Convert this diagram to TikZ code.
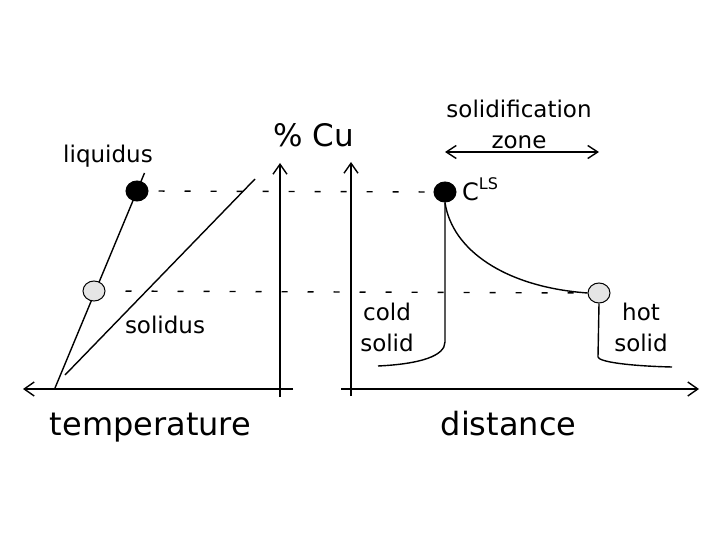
\documentclass[tikz,border=0pt]{standalone}
\usepackage{fontspec}
\setmainfont{DejaVu Sans}
\usetikzlibrary{arrows.meta,shapes.geometric}
\begin{document}
\begin{tikzpicture}[x=1pt,y=-1pt,
  axis/.style={line width=1.4pt,-{Straight Barb[length=10pt,width=14pt,line width=1.4pt]}},
  twoway/.style={line width=1.4pt,{Straight Barb[length=10pt,width=13pt,line width=1.4pt]}-{Straight Barb[length=10pt,width=13pt,line width=1.4pt]}},
  curve/.style={line width=1.4pt},
  guide/.style={line width=1.4pt,dash pattern=on 6pt off 20pt},
  bigdot/.style={ellipse,draw,line width=1pt,fill=black,minimum width=22pt,minimum height=20pt,inner sep=0pt},
  greydot/.style={ellipse,draw,line width=1pt,fill=gray!20,minimum width=22pt,minimum height=20pt,inner sep=0pt},
  lbl/.style={font=\fontsize{23}{31.5}\selectfont,inner sep=0pt,align=center},
  big/.style={font=\fontsize{32}{38}\selectfont,inner sep=0pt}
]
\useasboundingbox[fill=white] (0,0) rectangle (720,540);

% coordinates
\coordinate (tR) at (293,389);
\coordinate (tL) at (23,389);
\coordinate (cB) at (280,397);
\coordinate (cT) at (280,163);
\coordinate (dL) at (341,389);
\coordinate (dR) at (699,389);
\coordinate (vB) at (351,396);
\coordinate (vT) at (351,162);
\coordinate (liq0) at (55,388);
\coordinate (liq1) at (144.5,173);
\coordinate (sol0) at (65,375);
\coordinate (sol1) at (255,179);
\coordinate (cs1) at (445,342);
\coordinate (cs2) at (378,366);
\coordinate (hs1) at (598,357);
\coordinate (hs2) at (672,367);
\coordinate (zL) at (445,152);
\coordinate (zR) at (599,152);

% axes
\draw[axis] (tR) -- (tL);
\draw[axis] (cB) -- (cT);
\draw[axis] (dL) -- (dR);
\draw[axis] (vB) -- (vT);

% phase diagram lines
\draw[curve] (liq0) -- (liq1);
\draw[curve] (sol0) -- (sol1);

% dots
\node[greydot] (g1) at (94,291) {};
\node[bigdot] (b1) at (137,191) {};
\node[bigdot] (b2) at (445,192) {};
\node[greydot] (g2) at (599,293) {};

% guides
\draw[guide,dash phase=16pt] (b1.east) -- (b2.west);
\draw[guide,dash phase=6pt] (g1.east) -- (g2.west);

% concentration profile
\draw[curve] (b2.south) -- (cs1) .. controls (445,356) and (420,364) .. (cs2);
\draw[curve] (b2.south) .. controls (452,250) and (505,287) .. (g2.west);
\draw[curve] (g2.south) -- (hs1) .. controls (599,362) and (630,366) .. (hs2);

% zone arrow
\draw[twoway] (zL) -- (zR);

% labels
\node[lbl,anchor=base] (liqT) at (108,163) {liquidus};
\node[lbl,anchor=base] (solT) at (165,333) {solidus};
\node[big,anchor=base,font=\fontsize{31}{36}\selectfont] (cuT) at (313.5,147) {\% Cu};
\node[big,anchor=base] (tempT) at (150.5,435) {temperature};
\node[big,anchor=base] (distT) at (508.5,435) {distance};
\node[lbl,anchor=north] (zoneT) at (519,99.5) {solidification\\zone};
\node[lbl,anchor=north] (coldT) at (387,302.5) {cold\\solid};
\node[lbl,anchor=north] (hotT) at (641,302.5) {hot\\solid};
\node[anchor=base west,inner sep=0pt,font=\fontsize{24}{28}\selectfont] (cls) at (462,201) {C\raisebox{12pt}{\fontsize{16}{19}\selectfont LS}};
\end{tikzpicture}
\end{document}
